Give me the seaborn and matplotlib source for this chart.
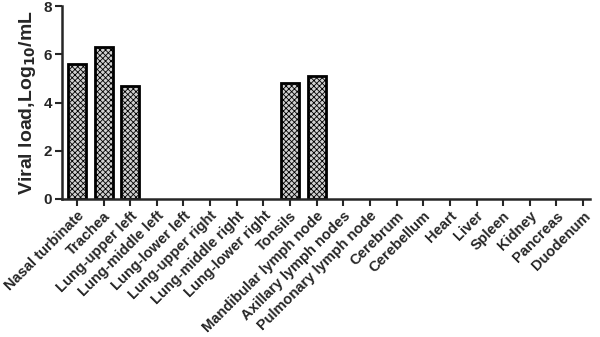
import matplotlib
matplotlib.use("Agg")
import matplotlib.pyplot as plt
import seaborn as sns
import pandas as pd

categories = ["Nasal turbinate", "Trachea", "Lung-upper left", "Lung-middle left",
              "Lung-lower left", "Lung-upper right", "Lung-middle right", "Lung-lower right",
              "Tonsils", "Mandibular lymph node", "Axillary lymph nodes", "Pulmonary lymph node",
              "Cerebrum", "Cerebellum", "Heart", "Liver", "Spleen", "Kidney", "Pancreas", "Duodenum"]
values = [5.6, 6.3, 4.7, 0, 0, 0, 0, 0, 4.8, 5.1, 0, 0, 0, 0, 0, 0, 0, 0, 0, 0]
yticks = [0, 2, 4, 6, 8]

sns.set_style("ticks")
plt.rcParams['font.family'] = ['Liberation Sans', 'DejaVu Sans']
plt.rcParams['hatch.linewidth'] = 0.6

df = pd.DataFrame({"cat": categories, "val": values})
fig = plt.figure(figsize=(6, 3.37), dpi=100)
ax = fig.add_axes([62/600, 1-199/337, (590-62)/600, (199-6)/337])
sns.barplot(data=df, x="cat", y="val", ax=ax, color="white", width=0.68,
            edgecolor="black", linewidth=2)
for p in ax.patches:
    p.set_hatch("xxxxxx")
    p.set_facecolor("#d0d0d0")
    if p.get_height() == 0:
        p.set_visible(False)

ax.set_xlim(-0.56, 19.26)
ax.set_ylim(0, 8)
ax.set_yticks(yticks)
ax.set_yticklabels([str(t) for t in yticks], fontweight="bold", fontsize=11)
ax.set_xticks(range(len(categories)))
ax.set_xticklabels(categories, rotation=45, ha="right", rotation_mode="anchor",
                   fontweight="bold", fontsize=10.5)
ax.set_xlabel("")
ax.set_ylabel("Viral load,Log$_{\\mathbf{10}}$/mL", fontweight="bold", fontsize=14, labelpad=4)
sns.despine(ax=ax)
for s in ["left", "bottom"]:
    ax.spines[s].set_linewidth(1.8)
ax.tick_params(axis="both", width=1.5, length=5, direction="out", pad=2)
fig.savefig("out.png", dpi=100)
